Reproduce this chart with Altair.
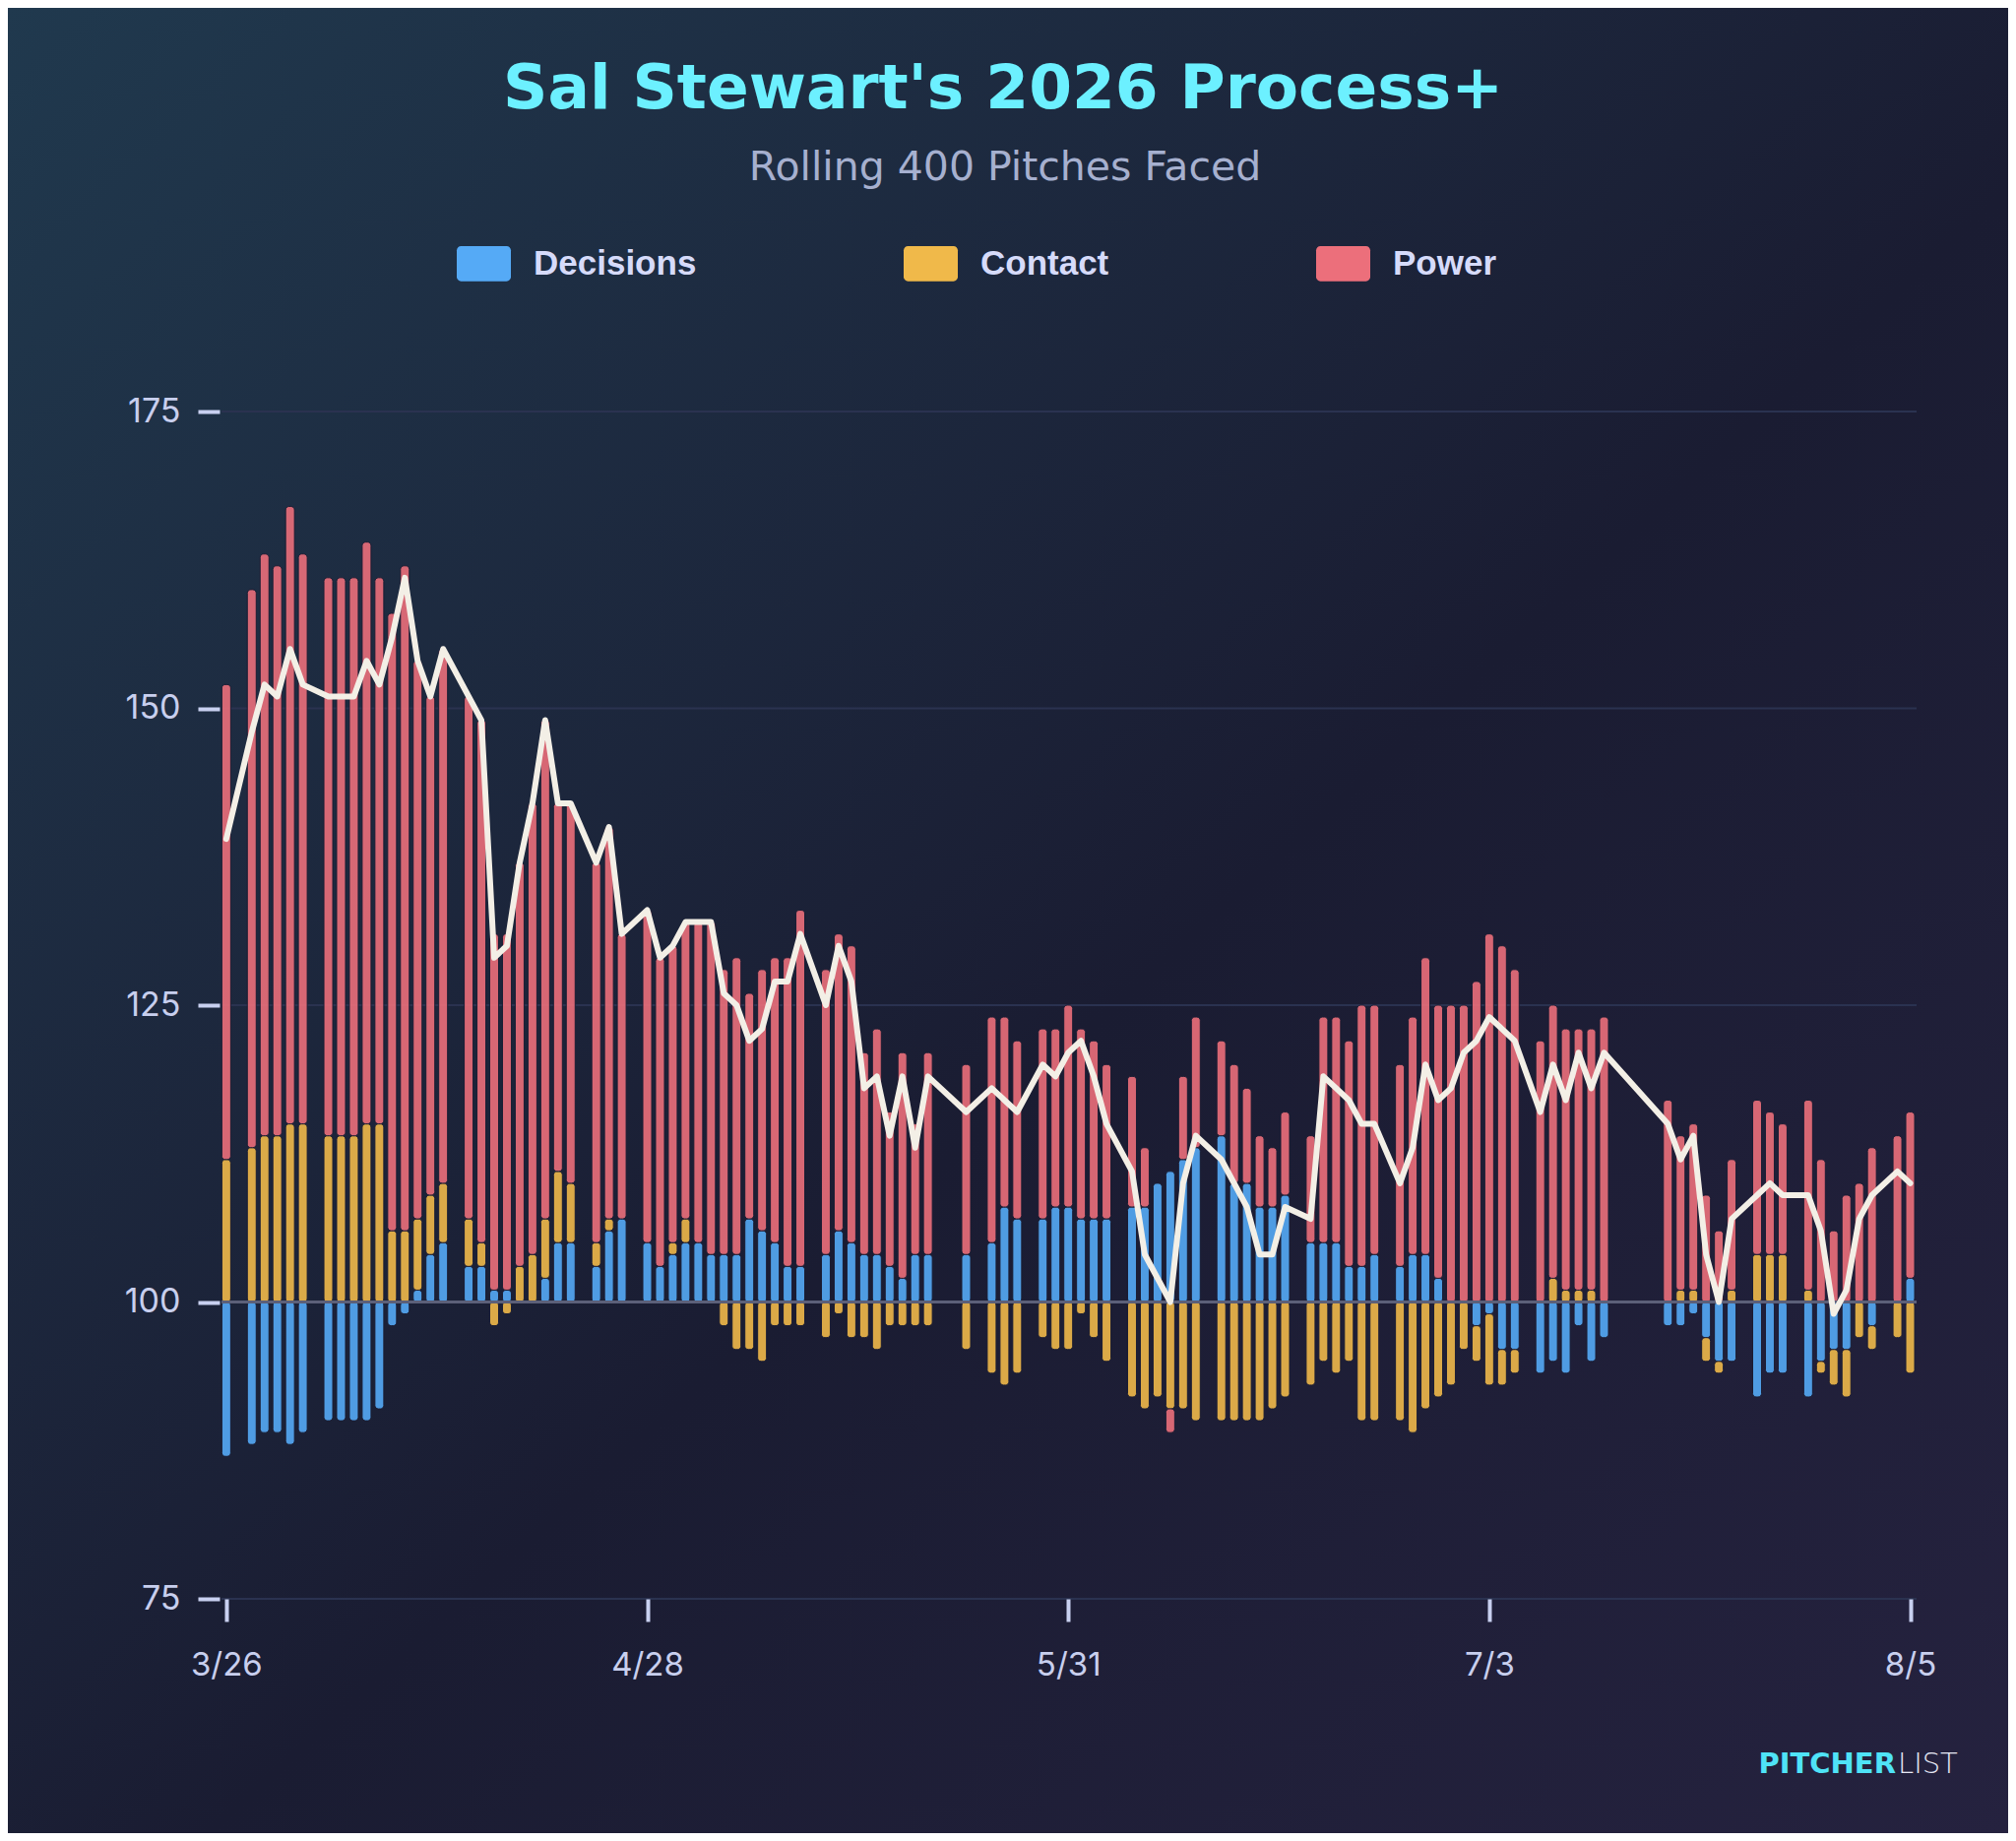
import altair as alt
import pandas as pd

# one entry per game: deviation from 100 for each Process+ component
dates = [
    '2026-03-26', '2026-03-28', '2026-03-29', '2026-03-30', '2026-03-31', '2026-04-01',
    '2026-04-03', '2026-04-04', '2026-04-05', '2026-04-06', '2026-04-07', '2026-04-08',
    '2026-04-09', '2026-04-10', '2026-04-11', '2026-04-12', '2026-04-14', '2026-04-15',
    '2026-04-16', '2026-04-17', '2026-04-18', '2026-04-19', '2026-04-20', '2026-04-21',
    '2026-04-22', '2026-04-24', '2026-04-25', '2026-04-26', '2026-04-28', '2026-04-29',
    '2026-04-30',
    '2026-05-01', '2026-05-02', '2026-05-03', '2026-05-04', '2026-05-05', '2026-05-06',
    '2026-05-07', '2026-05-08', '2026-05-09', '2026-05-10', '2026-05-12', '2026-05-13',
    '2026-05-14', '2026-05-15', '2026-05-16', '2026-05-17', '2026-05-18', '2026-05-19',
    '2026-05-20', '2026-05-23', '2026-05-25', '2026-05-26', '2026-05-27', '2026-05-29',
    '2026-05-30', '2026-05-31',
    '2026-06-01', '2026-06-02', '2026-06-03', '2026-06-05', '2026-06-06', '2026-06-07',
    '2026-06-08', '2026-06-09', '2026-06-10', '2026-06-12', '2026-06-13', '2026-06-14',
    '2026-06-15', '2026-06-16', '2026-06-17', '2026-06-19', '2026-06-20', '2026-06-21',
    '2026-06-22', '2026-06-23', '2026-06-24', '2026-06-26', '2026-06-27', '2026-06-28',
    '2026-06-29', '2026-06-30',
    '2026-07-01', '2026-07-02', '2026-07-03', '2026-07-04', '2026-07-05', '2026-07-07',
    '2026-07-08', '2026-07-09', '2026-07-10', '2026-07-11', '2026-07-12', '2026-07-17',
    '2026-07-18', '2026-07-19', '2026-07-20', '2026-07-21', '2026-07-22', '2026-07-24',
    '2026-07-25', '2026-07-26', '2026-07-28', '2026-07-29', '2026-07-30', '2026-07-31',
    '2026-08-01', '2026-08-02', '2026-08-04', '2026-08-05',
]
decisions = [
    -13, -12, -11, -11, -12, -11, -10, -10, -10, -10, -9, -2, -1, 1, 4, 5, 3, 3,
    1, 1, 0, 0, 2, 5, 5, 3, 6, 7, 5, 3, 4,
    5, 5, 4, 4, 4, 7, 6, 5, 3, 3, 4, 6, 5, 4, 4, 3, 2, 4, 4, 4, 5, 8, 7, 7, 8, 8,
    7, 7, 7, 8, 8, 10, 11, 12, 13, 14, 10, 10, 8, 8, 9, 5, 5, 5, 3, 3, 4, 3, 4, 4, 2, 0,
    0, -2, -1, -4, -4, -6, -5, -6, -2, -5, -3, -2, -2, -1, -3, -5, -5, -8, -6, -6, -8, -5, -4, -4,
    0, -2, 0, 2,
]
contact = [
    12, 13, 14, 14, 15, 15, 14, 14, 14, 15, 15, 6, 6, 6, 5, 5, 4, 2,
    -2, -1, 3, 4, 5, 6, 5, 2, 1, 0, 0, 0, 1,
    2, 0, 0, -2, -4, -4, -5, -2, -2, -2, -3, -1, -3, -3, -4, -2, -2, -2, -2, -4, -6, -7, -6, -3, -4, -4,
    -1, -3, -5, -8, -9, -8, -9, -9, -10, -10, -10, -10, -10, -9, -8, -7, -5, -6, -5, -10, -10, -10, -11, -9, -8, -7,
    -4, -3, -6, -3, -2, 0, 2, 1, 1, 1, 0, 0, 1, 1, -2, -1, 1, 4, 4, 4, 1, -1, -3, -4,
    -3, -2, -3, -6,
]
power = [
    40, 47, 49, 48, 52, 48, 47, 47, 47, 49, 46, 52, 56, 47, 42, 45, 44, 44,
    30, 30, 34, 38, 42, 31, 32, 32, 33, 24, 28, 26, 25,
    25, 27, 28, 24, 25, 19, 22, 24, 26, 30, 24, 25, 25, 17, 19, 13, 19, 11, 17, 16, 19, 16, 15, 16, 15, 17,
    16, 15, 13, 11, 5, 0, -2, 7, 11, 8, 10, 8, 6, 5, 7, 9, 19, 19, 19, 22, 21, 17, 20, 25, 23, 25,
    25, 27, 31, 30, 28, 22, 23, 22, 22, 22, 24, 17, 13, 14, 9, 6, 11, 13, 12, 11, 16, 12, 6, 9,
    10, 13, 14, 14,
]

metrics = ['Decisions', 'Contact', 'Power']
colors = ['#55aaf6', '#f0b94a', '#ec6f7b']
y_ticks = [75, 100, 125, 150, 175]
tick_dates = ['2026-03-26', '2026-04-28', '2026-05-31', '2026-07-03', '2026-08-05']
title_text = "Sal Stewart's 2026 Process+"
subtitle_text = 'Rolling 400 Pitches Faced'

df = pd.DataFrame({'date': dates, 'Decisions': decisions,
                   'Contact': contact, 'Power': power})

W, H = 1722, 1206
label_color = '#c8cfee'


def dt(s, hours=0):
    y, m, d = (int(p) for p in s.split('-'))
    return alt.DateTime(year=y, month=m, date=d, hours=hours, utc=True)


x_scale = alt.Scale(type='utc', nice=False, padding=0,
                    domain=[dt('2026-03-25', 15), dt('2026-08-05', 12)])
y_scale = alt.Scale(domain=[75, 175], nice=False)

# background gradient behind everything
bg = alt.Chart(pd.DataFrame({'a': [0]})).mark_rect(
    fill={'gradient': 'linear', 'x1': 0, 'y1': 0, 'x2': 1, 'y2': 1,
          'stops': [{'offset': 0, 'color': '#20394e'},
                    {'offset': 0.55, 'color': '#1a1c32'},
                    {'offset': 1, 'color': '#25223f'}]}
).encode(x=alt.value(-217), x2=alt.value(W + 93),
         y=alt.value(-410), y2=alt.value(H + 238))

grid = alt.Chart(pd.DataFrame({'y': y_ticks})).mark_rule(
    color='#2a3250', strokeWidth=2
).encode(y=alt.Y('y:Q', scale=y_scale))

bars = alt.Chart(df).transform_fold(
    metrics, as_=['metric', 'v']
).transform_filter(
    alt.datum.v != 0
).transform_calculate(
    k="indexof(['Decisions','Contact','Power'], datum.metric)"
).transform_stack(
    stack='v', groupby=['date'], as_=['lo', 'hi'], offset='zero',
    sort=[alt.SortField('k', order='ascending')]
).transform_calculate(
    y0='100 + datum.lo', y1='100 + datum.hi'
).mark_bar(width=9, cornerRadius=3.5, opacity=0.9,
           stroke='#1b1d33', strokeWidth=1).encode(
    x=alt.X('date:T', scale=x_scale,
            axis=alt.Axis(values=[dt(d) for d in tick_dates], format='%-m/%-d',
                          title=None, grid=False, domain=False, zindex=1,
                          tickSize=23, tickWidth=4, tickColor='#c8d0f0',
                          labelPadding=28, labelFontSize=33, labelFont='Inter',
                          labelColor=label_color)),
    y=alt.Y('y0:Q', scale=y_scale,
            axis=alt.Axis(values=y_ticks, title=None, domain=False, grid=False, zindex=1,
                          offset=2, tickSize=22, tickWidth=4, tickColor='#c8d0f0',
                          labelPadding=18, labelFontSize=34, labelFont='Inter',
                          labelColor=label_color)),
    y2='y1:Q',
    color=alt.Color('metric:N', scale=alt.Scale(domain=metrics, range=colors),
                    legend=alt.Legend(
                        title=None, orient='none', direction='horizontal',
                        legendX=239, legendY=-178,
                        symbolType='M-0.84,-0.65H0.84A0.16,0.16 0 0 1 1,-0.49V0.49'
                                   'A0.16,0.16 0 0 1 0.84,0.65H-0.84A0.16,0.16 0 0 1 -1,0.49'
                                   'V-0.49A0.16,0.16 0 0 1 -0.84,-0.65Z',
                        symbolSize=3025, symbolStrokeWidth=0, symbolOpacity=1,
                        labelFont='Liberation Sans', labelFontWeight='bold',
                        labelFontSize=35, labelColor='#d6dbfa', labelOffset=23,
                        labelLimit=400, columnPadding=209, zindex=1)),
)

zero = alt.Chart(pd.DataFrame({'y': [100]})).mark_rule(
    color='#5c6079', strokeWidth=3
).encode(y=alt.Y('y:Q', scale=y_scale))

line = alt.Chart(df).transform_calculate(
    total='100 + datum.Decisions + datum.Contact + datum.Power'
).mark_line(color='#f3efe6', strokeWidth=6, strokeJoin='round', strokeCap='round').encode(
    x=alt.X('date:T', scale=x_scale),
    y=alt.Y('total:Q', scale=y_scale),
)

title = alt.Chart(pd.DataFrame({'t': [title_text]})).mark_text(
    align='center', baseline='middle', font='DejaVu Sans', fontWeight='bold',
    fontSize=63, color='#6cf0ff'
).encode(x=alt.value(794), y=alt.value(-327), text='t:N')

subtitle = alt.Chart(pd.DataFrame({'t': [subtitle_text]})).mark_text(
    align='center', baseline='middle', font='DejaVu Sans',
    fontSize=41, color='#a6b0cf'
).encode(x=alt.value(796), y=alt.value(-247), text='t:N')

logo_a = alt.Chart(pd.DataFrame({'t': ['PITCHER']})).mark_text(
    align='right', baseline='middle', font='DejaVu Sans', fontWeight='bold',
    fontSize=29, color='#4fe3f7'
).encode(x=alt.value(1701), y=alt.value(1374), text='t:N')

logo_b = alt.Chart(pd.DataFrame({'t': ['LIST']})).mark_text(
    align='left', baseline='middle', font='DejaVu Sans', fontWeight=200,
    fontSize=29, color='#e6e8f4'
).encode(x=alt.value(1703), y=alt.value(1374), text='t:N')

chart = alt.layer(bg, grid, bars, zero, line, title, subtitle, logo_a, logo_b).properties(
    width=W, height=H,
    autosize=alt.AutoSizeParams(type='none'),
    padding={'left': 217, 'top': 410, 'right': 93, 'bottom': 238},
).configure(background='#1b1f35').configure_view(strokeWidth=0)

chart.save('out.html', embed_options={'renderer': 'svg', 'actions': False})
